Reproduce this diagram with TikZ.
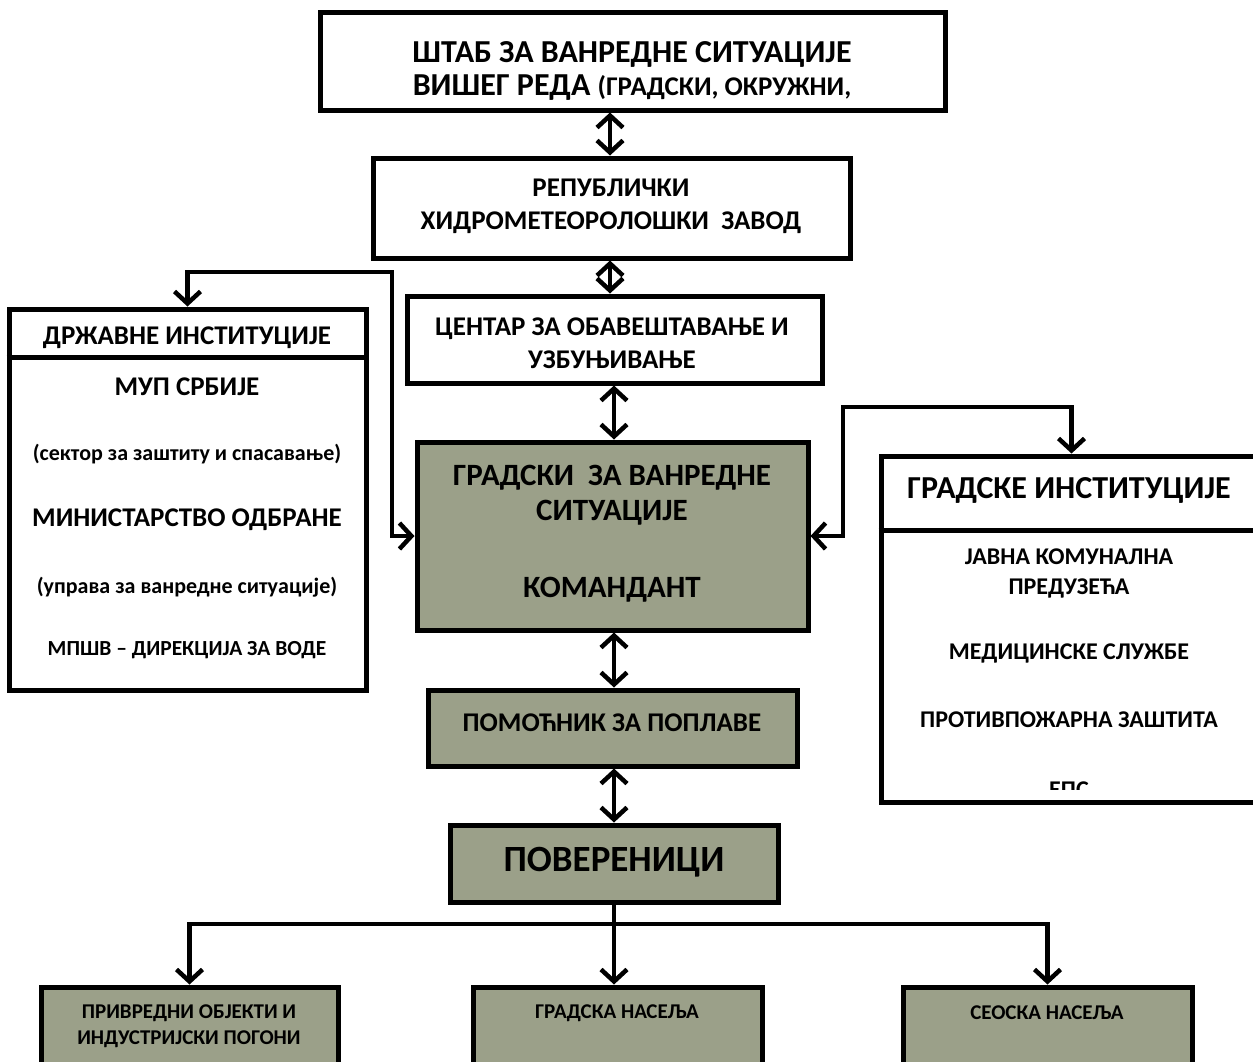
\documentclass[tikz,border=0pt]{standalone}
\usepackage{fontspec}
\setmainfont{Carlito}
\usetikzlibrary{arrows.meta,shadows}
\definecolor{boxgray}{RGB}{155,160,137}
\newcommand{\fsz}[2]{\fontsize{#1}{#2}\selectfont}

\begin{document}
\begin{tikzpicture}[x=1pt,y=-1pt]

    \tikzset{
      BoxStyle/.style = { rectangle, draw, line width = 5pt, fill = white,
                          inner sep = 0pt },
      GrayBox/.style = { BoxStyle, fill = boxgray,
                         drop shadow = {shadow xshift = 2pt, shadow yshift = -3pt,
                                        fill = black!30} },
      TextStyle/.style = { align = center, inner sep = 0pt },
      EdgeStyle/.style = { line width = 4.5pt },
      Chev/.tip = {Straight Barb[length = 12pt, width = 26pt]} }
      \useasboundingbox (0,0) rectangle (1253,1061);
      \clip (0,0) rectangle (1253,1061);

      % centre column
      \node[BoxStyle, minimum width = 625pt, minimum height = 98pt] (stab) at (632.5,61) {};
      \node[TextStyle, font = \bfseries\fsz{32}{33}] (stabT) at (632,70.5)
        {ШТАБ ЗА ВАНРЕДНЕ СИТУАЦИЈЕ\\ВИШЕГ РЕДА {\fsz{27}{33}(ГРАДСКИ, ОКРУЖНИ,}};

      \node[BoxStyle, minimum width = 477pt, minimum height = 100pt] (rep) at (611.5,208) {};
      \node[TextStyle, font = \bfseries\fsz{27}{33}] (repT) at (611,206.5)
        {РЕПУБЛИЧКИ\\ХИДРОМЕТЕОРОЛОШКИ\ \ ЗАВОД};

      \node[BoxStyle, minimum width = 415pt, minimum height = 87pt] (cent) at (614.5,339.5) {};
      \node[TextStyle, font = \bfseries\fsz{27}{33}] (centT) at (612,343.5)
        {ЦЕНТАР ЗА ОБАВЕШТАВАЊЕ И\\УЗБУЊИВАЊЕ};

      \node[GrayBox, minimum width = 391pt, minimum height = 188pt] (grad) at (612.5,536) {};
      \node[TextStyle, font = \bfseries\fsz{31}{35}] (gradT) at (612,495.5)
        {ГРАДСКИ\ \ ЗА ВАНРЕДНЕ\\СИТУАЦИЈЕ};
      \node[TextStyle, font = \bfseries\fsz{31}{35}] (gradK) at (612,590) {КОМАНДАНТ};

      \node[GrayBox, minimum width = 369pt, minimum height = 76pt] (pom) at (612.5,728) {};
      \node[TextStyle, font = \bfseries\fsz{27}{33}] (pomT) at (612,723) {ПОМОЋНИК ЗА ПОПЛАВЕ};

      \node[GrayBox, minimum width = 328pt, minimum height = 77pt] (pov) at (614,863.5) {};
      \node[TextStyle, font = \bfseries\fsz{37}{40}] (povT) at (614,862) {ПОВЕРЕНИЦИ};

      % left box
      \node[BoxStyle, minimum width = 357pt, minimum height = 381pt] (dri) at (187.5,499.5) {};
      \draw[line width = 5pt] ([yshift = -50.5pt]dri.north west) -- ([yshift = -50.5pt]dri.north east);
      \node[TextStyle, font = \bfseries\fsz{27}{30}] (driH) at (187,338) {ДРЖАВНЕ ИНСТИТУЦИЈЕ};
      \node[TextStyle, font = \bfseries\fsz{27}{30}] (mup) at (187,387) {МУП СРБИЈЕ};
      \node[TextStyle, font = \bfseries\fsz{22}{26}] (sek) at (187,454) {(сектор за заштиту и спасавање)};
      \node[TextStyle, font = \bfseries\fsz{27}{30}] (mod) at (187,520) {МИНИСТАРСТВО ОДБРАНЕ};
      \node[TextStyle, font = \bfseries\fsz{22}{26}] (upr) at (187,587) {(управа за ванредне ситуације)};
      \node[TextStyle, font = \bfseries\fsz{21.5}{26}] (mpsv) at (187,650) {МПШВ – ДИРЕКЦИЈА ЗА ВОДЕ};

      % right box
      \node[BoxStyle, minimum width = 381pt, minimum height = 346pt] (gi) at (1071.5,629) {};
      \draw[line width = 5pt] ([yshift = -76.5pt]gi.north west) -- ([yshift = -76.5pt]gi.north east);
      \node[TextStyle, font = \bfseries\fsz{32}{36}] (giH) at (1069,490) {ГРАДСКЕ ИНСТИТУЦИЈЕ};
      \node[TextStyle, font = \bfseries\fsz{24}{30}] (jkp) at (1069,573) {ЈАВНА КОМУНАЛНА\\ПРЕДУЗЕЋА};
      \node[TextStyle, font = \bfseries\fsz{24}{30}] (med) at (1069,653) {МЕДИЦИНСКЕ СЛУЖБЕ};
      \node[TextStyle, font = \bfseries\fsz{24}{30}] (ppz) at (1069,720) {ПРОТИВПОЖАРНА ЗАШТИТА};
      \begin{scope}
        \clip (881,760) rectangle (1253,789);
        \node[TextStyle, font = \bfseries\fsz{24}{30}] (eps) at (1069,790) {ЕПС};
      \end{scope}

      % bottom row
      \node[GrayBox, minimum width = 297pt, minimum height = 93pt] (ind) at (189.5,1033.5) {};
      \node[TextStyle, font = \bfseries\fsz{21}{26}] (indT) at (189,1026)
        {ПРИВРЕДНИ ОБЈЕКТИ И\\ИНДУСТРИЈСКИ ПОГОНИ};
      \node[GrayBox, minimum width = 289pt, minimum height = 93pt] (gn) at (617.5,1033.5) {};
      \node[TextStyle, font = \bfseries\fsz{21}{26}] (gnT) at (617,1013) {ГРАДСКА НАСЕЉА};
      \node[GrayBox, minimum width = 289pt, minimum height = 93pt] (sn) at (1047.5,1033.5) {};
      \node[TextStyle, font = \bfseries\fsz{21}{26}] (snT) at (1047,1013) {СЕОСКА НАСЕЉА};

      % connectors
      \coordinate (axU) at (610,0);
      \coordinate (axD) at (614,0);
      \coordinate (bendL) at (392,272);
      \coordinate (bendR) at (843,407);
      \coordinate (split) at (614,924);
      \draw[EdgeStyle, Chev-Chev] (stab.south -| axU) -- (rep.north -| axU);
      \draw[EdgeStyle, Chev-Chev] (rep.south -| axU) -- (cent.north -| axU);
      \draw[EdgeStyle, Chev-Chev] (cent.south -| axD) -- (grad.north -| axD);
      \draw[EdgeStyle, Chev-Chev] (grad.south -| axD) -- (pom.north -| axD);
      \draw[EdgeStyle, Chev-Chev] (pom.south -| axD) -- (pov.north -| axD);
      \draw[EdgeStyle, Chev-Chev] (dri.north) |- (bendL) |- (grad.west);
      \draw[EdgeStyle, Chev-Chev] (grad.east) -| (bendR) -| (gi.north);
      \draw[EdgeStyle, -Chev] (pov.south -| axD) -- (gn.north -| axD);
      \draw[EdgeStyle, Chev-Chev] (ind.north) |- (split) -| (sn.north);

    \end{tikzpicture}
\end{document}
